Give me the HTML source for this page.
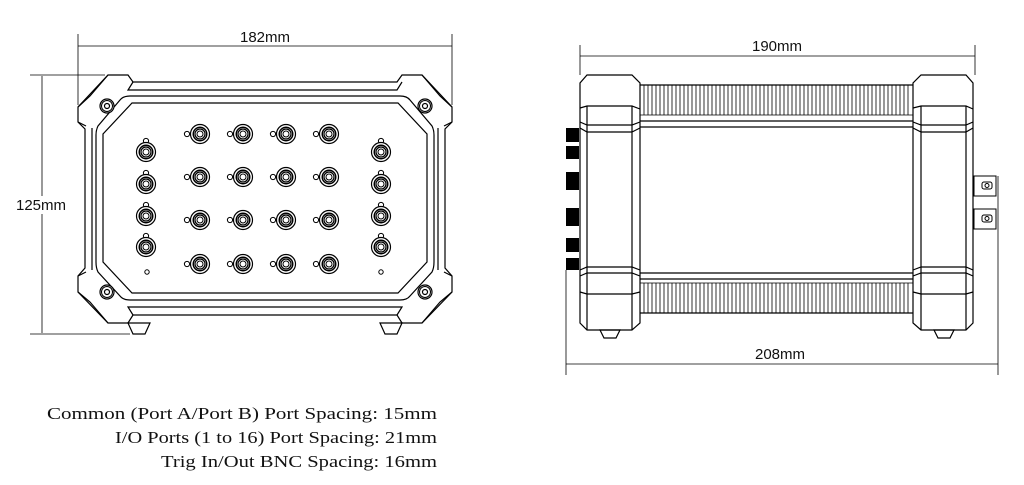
<!DOCTYPE html>
<html><head><meta charset="utf-8"><style>html,body{margin:0;padding:0;background:#fff;width:1024px;height:485px;overflow:hidden}</style></head>
<body>
<svg width="1024" height="485" viewBox="0 0 1024 485" xmlns="http://www.w3.org/2000/svg" font-family="Liberation Sans, sans-serif">
<defs>
<g id="bnc">
<circle r="9.5" fill="#fff" stroke="#000" stroke-width="1.2"/>
<circle r="7.5" fill="#000"/>
<circle r="6" fill="#fff"/>
<circle r="5" fill="none" stroke="#000" stroke-width="1.2"/>
<circle r="3" fill="none" stroke="#000" stroke-width="1"/>
</g>
<g id="bncL"><circle cx="-13" r="2.6" fill="#fff" stroke="#000"/><use href="#bnc"/></g>
<g id="bncT"><circle cy="-11" r="2.6" fill="#fff" stroke="#000"/><use href="#bnc"/></g>
<g id="scr"><circle r="7" fill="#fff" stroke="#000" stroke-width="1.2"/><circle r="5.5" fill="none" stroke="#000"/><circle r="2.5" fill="none" stroke="#000" stroke-width="1.2"/></g>
</defs>
<g fill="none" stroke="#000" stroke-width="1.2">
<!-- left dims -->
<line x1="78" y1="46" x2="452" y2="46" stroke-width="0.8"/>
<line x1="78" y1="34" x2="78" y2="105" stroke-width="0.8"/>
<line x1="452" y1="34" x2="452" y2="105" stroke-width="0.8"/>
<line x1="42" y1="76" x2="42" y2="333" stroke-width="0.8"/>
<line x1="30" y1="75" x2="105" y2="75" stroke-width="0.8"/>
<line x1="30" y1="334" x2="130" y2="334" stroke-width="0.8"/>
<!-- left device outer -->
<path d="M108,75 L128,75 L133,82 L397,82 L402,75 L422,75 L452,107 L452,122 L445,129 L445,268 L452,276 L452,292 L422,323 L402,323 L397,315 L133,315 L128,323 L108,323 L78,292 L78,276 L85,268 L85,129 L78,122 L78,107 Z"/>
<path d="M133,82 L128,90 L397,90 L402,82 M78,122 L86,126 M452,122 L444,126 M78,276 L86,272 M452,276 L444,272 M133,315 L128,307 L402,307 L397,315"/>
<path d="M92,128 L92,270 M438,128 L438,270 M108,75 L90,96 L78,107 M422,75 L440,96 L452,107 M78,292 L90,302 L108,323 M452,292 L440,302 L422,323"/>
<!-- inner panel -->
<path d="M130,96 L400,96 Q407,96 410,100 L432,126 Q434,130 434,135 L434,262 Q434,268 432,272 L410,296 Q407,300 400,300 L130,300 Q123,300 120,296 L98,272 Q96,268 96,262 L96,135 Q96,130 98,126 L120,100 Q123,96 130,96 Z"/>
<path d="M132,103 L398,103 L427,134 L427,262 L398,293 L132,293 L103,262 L103,134 Z"/>
<!-- feet -->
<path d="M128,323 L150,323 L145,334 L133,334 Z M380,323 L402,323 L397,334 L385,334 Z"/>
<!-- right dims -->
<line x1="580" y1="56" x2="975" y2="56" stroke-width="0.8"/>
<line x1="580" y1="45" x2="580" y2="75" stroke-width="0.8"/>
<line x1="975" y1="45" x2="975" y2="75" stroke-width="0.8"/>
<line x1="566" y1="364" x2="998" y2="364" stroke-width="0.8"/>
<line x1="566" y1="270" x2="566" y2="375" stroke-width="0.8"/>
<line x1="998" y1="176" x2="998" y2="375" stroke-width="0.8"/>
<!-- caps -->
<path d="M587,75 L632,75 L640,83 L640,323 L632,330 L587,330 L580,323 L580,83 Z"/>
<path d="M580,108 L587,106 L632,106 L640,109 M580,122 L587,125 L632,125 L640,122 M580,128 L587,132 L632,132 L640,128 M587,106 L587,330 M632,106 L632,330"/>
<path d="M580,270 L587,267 L632,267 L640,270 M580,276 L587,273 L632,273 L640,276 M580,292 L587,294 L632,294 L640,292"/>
<path d="M921,75 L966,75 L973,83 L973,323 L966,330 L921,330 L913,323 L913,83 Z"/>
<path d="M913,108 L921,106 L966,106 L973,109 M913,122 L921,125 L966,125 L973,122 M913,128 L921,132 L966,132 L973,128 M921,106 L921,330 M966,106 L966,330"/>
<path d="M913,270 L921,267 L966,267 L973,270 M913,276 L921,273 L966,273 L973,276 M913,292 L921,294 L966,294 L973,292"/>
<path d="M600,330 L620,330 L616,338 L604,338 Z M934,330 L954,330 L950,338 L938,338 Z"/>
<!-- body -->
<path d="M640,121 L913,121 M640,127 L913,127 M640,273 L913,273 M640,279 L913,279 M640,85 L913,85 M640,313 L913,313"/>
<path d="M640,115 L913,115 M640,283 L913,283" stroke-width="0.8"/>
</g>
<!-- fins -->
<g stroke="#000" stroke-width="0.8">
<path d="M644,85V115 M648,85V115 M652,85V115 M656,85V115 M660,85V115 M664,85V115 M668,85V115 M672,85V115 M676,85V115 M680,85V115 M684,85V115 M688,85V115 M692,85V115 M696,85V115 M700,85V115 M704,85V115 M708,85V115 M712,85V115 M716,85V115 M720,85V115 M724,85V115 M728,85V115 M732,85V115 M736,85V115 M740,85V115 M744,85V115 M748,85V115 M752,85V115 M756,85V115 M760,85V115 M764,85V115 M768,85V115 M772,85V115 M776,85V115 M780,85V115 M784,85V115 M788,85V115 M792,85V115 M796,85V115 M800,85V115 M804,85V115 M808,85V115 M812,85V115 M816,85V115 M820,85V115 M824,85V115 M828,85V115 M832,85V115 M836,85V115 M840,85V115 M844,85V115 M848,85V115 M852,85V115 M856,85V115 M860,85V115 M864,85V115 M868,85V115 M872,85V115 M876,85V115 M880,85V115 M884,85V115 M888,85V115 M892,85V115 M896,85V115 M900,85V115 M904,85V115 M908,85V115"/>
<path d="M644,283V313 M648,283V313 M652,283V313 M656,283V313 M660,283V313 M664,283V313 M668,283V313 M672,283V313 M676,283V313 M680,283V313 M684,283V313 M688,283V313 M692,283V313 M696,283V313 M700,283V313 M704,283V313 M708,283V313 M712,283V313 M716,283V313 M720,283V313 M724,283V313 M728,283V313 M732,283V313 M736,283V313 M740,283V313 M744,283V313 M748,283V313 M752,283V313 M756,283V313 M760,283V313 M764,283V313 M768,283V313 M772,283V313 M776,283V313 M780,283V313 M784,283V313 M788,283V313 M792,283V313 M796,283V313 M800,283V313 M804,283V313 M808,283V313 M812,283V313 M816,283V313 M820,283V313 M824,283V313 M828,283V313 M832,283V313 M836,283V313 M840,283V313 M844,283V313 M848,283V313 M852,283V313 M856,283V313 M860,283V313 M864,283V313 M868,283V313 M872,283V313 M876,283V313 M880,283V313 M884,283V313 M888,283V313 M892,283V313 M896,283V313 M900,283V313 M904,283V313 M908,283V313"/>
</g>
<!-- left connectors on side -->
<g fill="#000">
<rect x="566" y="128" width="13" height="14"/><rect x="566" y="146" width="13" height="13"/>
<rect x="566" y="172" width="13" height="18"/><rect x="566" y="208" width="13" height="18"/>
<rect x="566" y="238" width="13" height="14"/><rect x="566" y="258" width="13" height="12"/>
</g>
<!-- right BNCs -->
<g fill="#fff" stroke="#000" stroke-width="1">
<rect x="974" y="176" width="22" height="20"/><rect x="974" y="209" width="22" height="20"/>
<rect x="982" y="182" width="10" height="7" rx="2"/><rect x="982" y="215" width="10" height="7" rx="2"/>
<circle cx="987" cy="185.5" r="2"/><circle cx="987" cy="218.5" r="2"/>
</g>
<!-- BNCs left device -->
<use href="#scr" x="107" y="106"/><use href="#scr" x="425" y="106"/>
<use href="#scr" x="107" y="292"/><use href="#scr" x="425" y="292"/>
<use href="#bncT" x="146" y="152"/><use href="#bncT" x="146" y="184"/><use href="#bncT" x="146" y="216"/><use href="#bncT" x="146" y="247"/>
<use href="#bncT" x="381" y="152"/><use href="#bncT" x="381" y="184"/><use href="#bncT" x="381" y="216"/><use href="#bncT" x="381" y="247"/>
<use href="#bncL" x="200" y="134"/><use href="#bncL" x="243" y="134"/><use href="#bncL" x="286" y="134"/><use href="#bncL" x="329" y="134"/>
<use href="#bncL" x="200" y="177"/><use href="#bncL" x="243" y="177"/><use href="#bncL" x="286" y="177"/><use href="#bncL" x="329" y="177"/>
<use href="#bncL" x="200" y="220"/><use href="#bncL" x="243" y="220"/><use href="#bncL" x="286" y="220"/><use href="#bncL" x="329" y="220"/>
<use href="#bncL" x="200" y="264"/><use href="#bncL" x="243" y="264"/><use href="#bncL" x="286" y="264"/><use href="#bncL" x="329" y="264"/>
<circle cx="147" cy="272" r="2.2" fill="#fff" stroke="#000"/><circle cx="381" cy="272" r="2.2" fill="#fff" stroke="#000"/>
<!-- labels -->
<g font-size="15" fill="#111" text-anchor="middle">
<rect x="238" y="30" width="56" height="14" fill="#fff"/>
<text x="265" y="42">182mm</text>
<rect x="10" y="196" width="62" height="18" fill="#fff"/>
<text x="41" y="210">125mm</text>
<text x="777" y="51">190mm</text>
<text x="780" y="359">208mm</text>
</g>
<g font-family="Liberation Serif, serif" font-size="17" fill="#111" text-anchor="end">
<text x="437" y="419" textLength="390" lengthAdjust="spacingAndGlyphs">Common (Port A/Port B) Port Spacing: 15mm</text>
<text x="437" y="443" textLength="322" lengthAdjust="spacingAndGlyphs">I/O Ports (1 to 16) Port Spacing: 21mm</text>
<text x="437" y="467" textLength="276" lengthAdjust="spacingAndGlyphs">Trig In/Out BNC Spacing: 16mm</text>
</g>
</svg>
</body></html>
